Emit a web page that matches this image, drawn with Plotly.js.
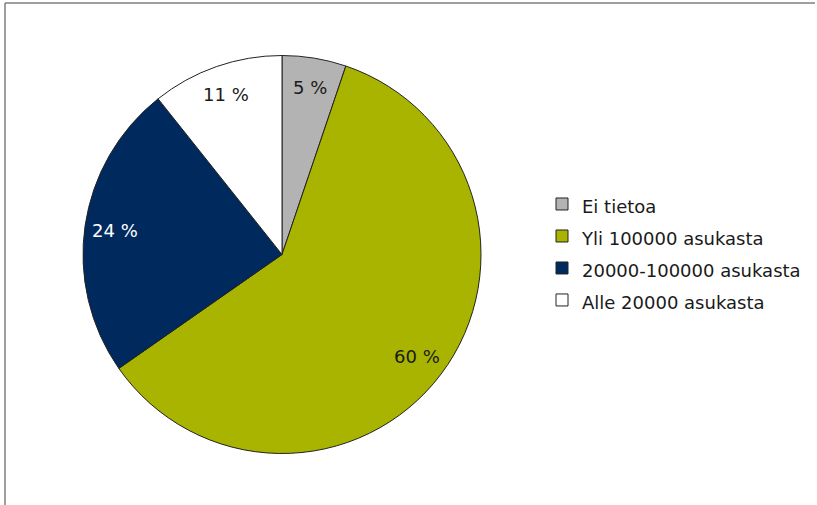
<!DOCTYPE html>
<html>
<head>
<meta charset="utf-8">
<script src="https://cdn.plot.ly/plotly-3.0.1.min.js"></script>
<style>
  html, body { margin: 0; padding: 0; background: #fff; }
  #graph { width: 817px; height: 505px; }
</style>
</head>
<body>
<div id="graph"></div>
<script>
// chart data
var labels = ["Ei tietoa", "Yli 100000 asukasta", "20000-100000 asukasta", "Alle 20000 asukasta"];
var values = [5.2, 60.1, 24.0, 10.7];
var colors = ["#b3b3b3", "#a8b400", "#002a5e", "#ffffff"];
var labelColors = ["#1a1a1a", "#1a1a1a", "#ffffff", "#1a1a1a"];

// page geometry
var W = 817, H = 505;
var cx = 282, cy = 254.5, R = 199;
var labelR = 0.85 * R;
var fontFam = "Verdana, 'DejaVu Sans', sans-serif";

function drawGraph() {
    var total = values.reduce(function (a, b) { return a + b; }, 0);

    // percentage labels placed along each slice's middle angle
    var annotations = [];
    var cum = 0;
    for (var i = 0; i < values.length; i++) {
        var mid = (cum + values[i] / 2) / total * 2 * Math.PI;
        cum += values[i];
        var px = cx + labelR * Math.sin(mid);
        var py = cy - labelR * Math.cos(mid);
        annotations.push({
            xref: "paper", yref: "paper",
            x: px / W, y: 1 - py / H,
            xanchor: "center", yanchor: "middle",
            text: Math.round(values[i] / total * 100) + " %",
            showarrow: false,
            font: { family: fontFam, size: 18, color: labelColors[i] }
        });
    }

    // legend font is bigger than the text so the rows get more space
    var legendLabels = labels.map(function (l) {
        return "<span style='font-size:18px'>" + l + "</span>";
    });

    var trace = {
        type: "pie",
        labels: legendLabels,
        values: values,
        sort: false,
        direction: "clockwise",
        rotation: 0,
        textinfo: "none",
        hoverinfo: "label+percent",
        marker: { colors: colors, line: { color: "#222", width: 1 } },
        domain: { x: [83 / W, 481 / W], y: [1 - 454 / H, 1 - 55 / H] }
    };

    var layout = {
        width: W,
        height: H,
        margin: { l: 0, r: 0, t: 0, b: 0 },
        paper_bgcolor: "#fff",
        font: { family: fontFam, color: "#1a1a1a" },
        showlegend: true,
        legend: {
            x: 542 / W, xanchor: "left",
            y: 1 - 252 / H, yanchor: "middle",
            font: { family: fontFam, size: 22.3, color: "#1a1a1a" },
            bgcolor: "rgba(0,0,0,0)"
        },
        annotations: annotations,
        shapes: [
            // outer frame, top and left edges
            { type: "line", xref: "paper", yref: "paper", x0: 5 / W, x1: 815 / W, y0: 1 - 3 / H, y1: 1 - 3 / H,
              line: { color: "#7f7f7f", width: 1.5 } },
            { type: "line", xref: "paper", yref: "paper", x0: 5 / W, x1: 5 / W, y0: 0, y1: 1 - 3 / H,
              line: { color: "#7f7f7f", width: 1.5 } }
        ]
    };

    Plotly.newPlot("graph", [trace], layout, { displayModeBar: false, staticPlot: true });
}

drawGraph();
</script>
</body>
</html>
